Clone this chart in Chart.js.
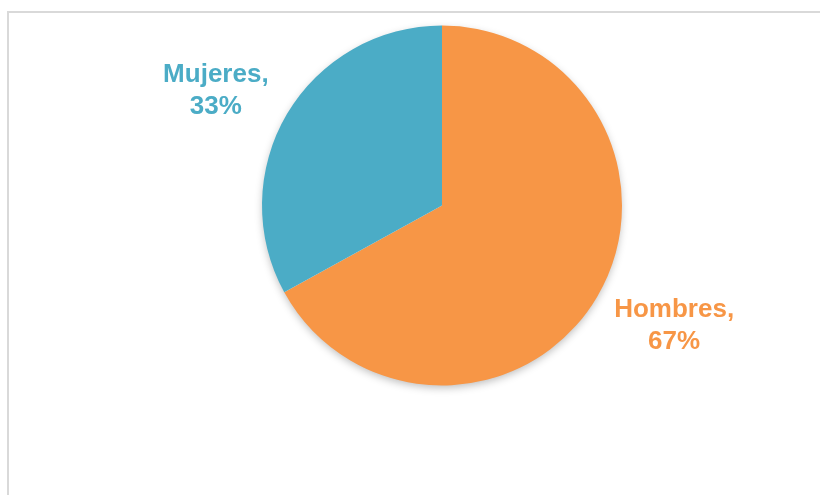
<!DOCTYPE html>
<html>
<head>
<meta charset="utf-8">
<script src="https://cdn.jsdelivr.net/npm/chart.js@4/dist/chart.umd.min.js"></script>
<style>
  html, body { margin: 0; padding: 0; background: #fff; overflow: hidden; }
  #wrap { position: relative; width: 820px; height: 495px; }
  #frame {
    position: absolute; left: 7px; top: 11px; width: 900px; height: 600px;
    border-left: 2px solid #d9d9d9; border-top: 2px solid #d9d9d9;
  }
  canvas { position: absolute; left: 0; top: 0; }
</style>
</head>
<body>
<div id="wrap">
  <div id="frame"></div>
  <canvas id="pieChart" width="820" height="495"></canvas>
</div>
<script>
// データ
const categories = ['Hombres', 'Mujeres'];
const percentages = [67, 33];
const sliceColors = ['#F79646', '#4BACC6'];

// 円の影を先に描く
const shadowPlugin = {
  id: 'pieShadow',
  beforeDatasetsDraw(chart) {
    const arc = chart.getDatasetMeta(0).data[0];
    if (!arc) return;
    const ctx = chart.ctx;
    ctx.save();
    ctx.shadowColor = 'rgba(0,0,0,0.28)';
    ctx.shadowBlur = 9;
    ctx.shadowOffsetY = 3;
    ctx.fillStyle = '#fff';
    ctx.beginPath();
    ctx.arc(arc.x, arc.y, arc.outerRadius - 1, 0, Math.PI * 2);
    ctx.fill();
    ctx.restore();
  }
};

// ラベル（カテゴリ名, %）
const labelPlugin = {
  id: 'outLabels',
  afterDatasetsDraw(chart) {
    const ctx = chart.ctx;
    const meta = chart.getDatasetMeta(0);
    ctx.save();
    ctx.font = 'bold 26px "Liberation Sans", Arial, sans-serif';
    ctx.textAlign = 'center';
    ctx.textBaseline = 'middle';
    meta.data.forEach((arc, i) => {
      const mid = (arc.startAngle + arc.endAngle) / 2 - 3.5 * Math.PI / 180;
      const d = arc.outerRadius * 1.43;
      const x = arc.x + Math.cos(mid) * d + 3;
      const y = arc.y + Math.sin(mid) * d + 3;
      ctx.fillStyle = sliceColors[i];
      ctx.fillText(categories[i] + ',', x, y - 16);
      ctx.fillText(percentages[i] + '%', x, y + 16);
    });
    ctx.restore();
  }
};

new Chart(document.getElementById('pieChart').getContext('2d'), {
  type: 'pie',
  data: {
    labels: categories,
    datasets: [{
      data: percentages,
      backgroundColor: sliceColors,
      borderWidth: 0
    }]
  },
  options: {
    responsive: false,
    animation: false,
    layout: { padding: { left: 262, right: 198, top: 25, bottom: 109 } },
    plugins: {
      legend: { display: false },
      tooltip: { enabled: false }
    }
  },
  plugins: [shadowPlugin, labelPlugin]
});
</script>
</body>
</html>
